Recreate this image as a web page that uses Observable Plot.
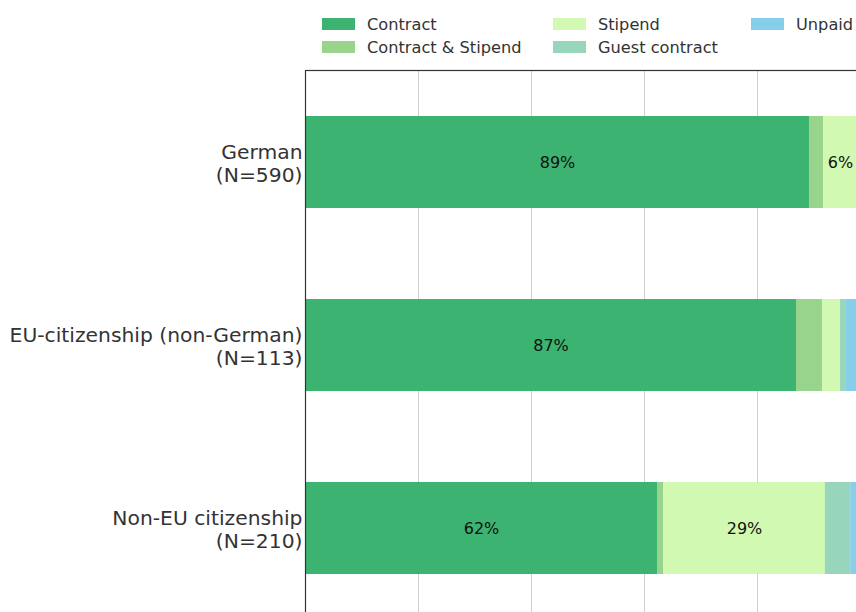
<!DOCTYPE html>
<html>
<head>
<meta charset="utf-8">
<script src="https://cdn.jsdelivr.net/npm/d3@7"></script>
<script src="https://cdn.jsdelivr.net/npm/@observablehq/plot@0.6"></script>
<style>
  html, body { margin: 0; padding: 0; background: #fff; overflow: hidden; }
  #wrap { position: relative; width: 856px; height: 612px; font-family: "DejaVu Sans", sans-serif; }
  #legend { position: absolute; left: 0; top: 0; width: 856px; height: 60px; }
  .item { position: absolute; display: flex; align-items: center; font-size: 16.2px; color: #333; white-space: nowrap; }
  .sw { width: 33px; height: 12px; margin-right: 12px; flex: none; }
  #chart svg { overflow: hidden; display: block; }
</style>
</head>
<body>
<div id="wrap">
  <div id="chart"></div>
  <div id="legend"></div>
</div>
<script>
const groups = ["German", "EU-citizenship (non-German)", "Non-EU citizenship"];
const groupN = [590, 113, 210];
const categories = ["Contract", "Contract & Stipend", "Stipend", "Guest contract", "Unpaid"];
const colors = ["#3cb371", "#98d48c", "#d2f9b1", "#98d6bb", "#87ceeb"];
const contract       = [0.892, 0.869, 0.623];
const contractStipend = [0.025, 0.046, 0.011];
const stipend        = [0.060, 0.032, 0.286];
const guestContract  = [0.010, 0.009, 0.045];
const unpaid         = [0.013, 0.044, 0.035];

const seriesValues = [contract, contractStipend, stipend, guestContract, unpaid];
const data = [];
groups.forEach((g, i) => {
  categories.forEach((c, j) => {
    data.push({group: g, category: c, value: seriesValues[j][i]});
  });
});
const labelOf = new Map(groups.map((g, i) => [g, `${g}\n(N=${groupN[i]})`]));

const plot = Plot.plot({
  width: 856,
  height: 612,
  marginLeft: 305,
  marginRight: -14,
  marginTop: 70,
  marginBottom: -7,
  style: {fontFamily: "DejaVu Sans, sans-serif", background: "#fff", overflow: "hidden"},
  x: {domain: [0, 1], axis: null},
  y: {domain: groups, padding: 0.5, paddingOuter: 0.25, axis: null},
  color: {domain: categories, range: colors},
  marks: [
    Plot.gridX([0.2, 0.4, 0.6, 0.8], {stroke: "#d0d0d0", strokeOpacity: 1, strokeWidth: 1}),
    Plot.barX(data, Plot.stackX({x: "value", y: "group", fill: "category", order: categories})),
    Plot.text(data, Plot.stackX({
      x: "value", y: "group", z: "category", order: categories,
      text: d => d.value >= 0.05 ? `${Math.round(d.value * 100)}%` : "",
      fontSize: 16, fill: "#111"
    })),
    Plot.axisY({tickFormat: d => labelOf.get(d), tickSize: 0, tickPadding: 3, fontSize: 20.3, lineHeight: 1.14, dy: 1, color: "#333", label: null}),
    Plot.frame({stroke: "#333", strokeWidth: 1.2})
  ]
});
document.getElementById("chart").appendChild(plot);

// Legend (column-major, 3 columns x 2 rows)
const legend = document.getElementById("legend");
const colX = [322, 553, 751];
const rowY = [24, 47];
categories.forEach((c, k) => {
  const col = Math.floor(k / 2), row = k % 2;
  const el = document.createElement("div");
  el.className = "item";
  el.style.left = colX[col] + "px";
  el.style.top = (rowY[row] - 10) + "px";
  el.style.height = "20px";
  el.innerHTML = `<span class="sw" style="background:${colors[k]}"></span><span>${c}</span>`;
  legend.appendChild(el);
});
</script>
</body>
</html>
